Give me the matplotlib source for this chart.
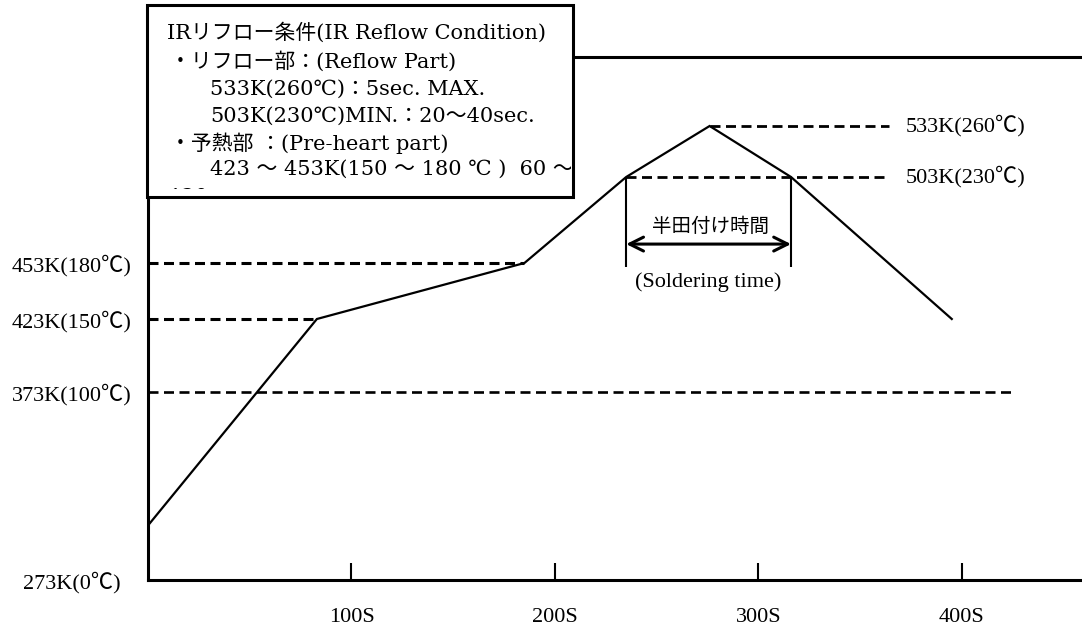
import numpy as np
import matplotlib.pyplot as plt
from matplotlib.patches import Rectangle
from matplotlib.transforms import Bbox, TransformedBbox

# reflow profile: time (s) / temperature (degC)
time_s = [0, 83, 185, 235, 276, 316, 395]
temp_c = [29, 150, 180, 230, 260, 230, 150]

# dashed reference levels
ref_temp = [180, 150, 100, 260, 230]
ref_start = [0, 0, 0, 276, 235]
ref_end = [185, 83, 425, 364, 364]
ref_lw = [2.2, 2.2, 1.9, 2.0, 2.0]

ytick_vals = [0, 100, 150, 180]
ytick_labels = ["273K(0℃)", "373K(100℃)", "423K(150℃)", "453K(180℃)"]
xtick_vals = [100, 200, 300, 400]
xtick_labels = ["100S", "200S", "300S", "400S"]
right_temp = [260, 230]
right_labels = ["533K(260℃)", "503K(230℃)"]

solder_start = 235
solder_end = 316

box_lines = [
    "IRリフロー条件(IR Reflow Condition)",
    "・リフロー部：(Reflow Part)",
    "533K(260℃)：5sec. MAX.",
    "503K(230℃)MIN.：20～40sec.",
    "・予熱部 ：(Pre-heart part)",
    "423 ～ 453K(150 ～ 180 ℃ )  60 ～",
    "120sec.",
]
box_x = [167, 170, 210, 210, 170, 210, 168]
box_y = [33, 61, 89, 116, 143, 169, 197]

# schematic (non-linear) temperature axis
scale_t = [0, 100, 150, 180, 230, 260, 300]
scale_p = [0, 188, 261, 317, 403, 454, 523]

serif = ["Liberation Serif", "Noto Sans CJK JP"]
boxfont = ["DejaVu Serif", "Noto Sans CJK JP"]

W, H = 1082, 633
fig = plt.figure(figsize=(W / 100, H / 100), dpi=100)
ax = fig.add_axes([148 / W, (H - 580) / H, (W - 148) / W, (580 - 57) / H])

ax.set_yscale("function", functions=(lambda v: np.interp(v, scale_t, scale_p),
                                     lambda v: np.interp(v, scale_p, scale_t)))
ax.set_xlim(0, 459)
ax.set_ylim(0, 300)

ax.plot(time_s, temp_c, color="black", lw=1.6, solid_joinstyle="miter", zorder=3)

for T, a, b, lw in zip(ref_temp, ref_start, ref_end, ref_lw):
    ax.plot([a, b], [T, T], color="black", lw=lw,
            dashes=(10 * 0.72 / lw, 5.5 * 0.72 / lw), zorder=2)

for T, lab in zip(right_temp, right_labels):
    ax.annotate(lab, xy=(364, T), xytext=(12, 0), textcoords="offset points",
                va="center", ha="left", fontsize=16, family=serif)

# soldering time marker
ax.vlines([solder_start, solder_end], 178, 230, color="black", lw=1.5)
ax.annotate("", xy=(solder_start, 191), xytext=(solder_end, 191),
            arrowprops=dict(arrowstyle="<->,head_length=1.0,head_width=0.5",
                            lw=2.2, color="black", shrinkA=0, shrinkB=0))
mid = (solder_start + solder_end) / 2
ax.text(mid + 1, 201.5, "半田付け時間", ha="center", va="center", fontsize=14,
        family=["Noto Sans CJK JP"])
ax.text(mid, 170, "(Soldering time)", ha="center", va="center", fontsize=16,
        family=serif)

ax.set_xticks(xtick_vals)
ax.set_xticklabels(xtick_labels, fontsize=16, family=serif)
ax.tick_params(axis="x", direction="in", length=12, width=1.5, pad=20)
ax.set_yticks(ytick_vals)
ax.set_yticklabels(ytick_labels, fontsize=16, family=serif, ha="center")
ax.tick_params(axis="y", length=0, pad=55)
ax.minorticks_off()

ax.spines["right"].set_visible(False)
for s in ["left", "bottom", "top"]:
    ax.spines[s].set_linewidth(2.2)

# condition box
box = Rectangle((147 / W, 1 - 197 / H), (573 - 147) / W, (197 - 5) / H,
                transform=fig.transFigure, facecolor="white", edgecolor="black",
                lw=2.2, zorder=5)
fig.patches.append(box)
clip = TransformedBbox(Bbox.from_extents(149 / W, 1 - 189 / H, 571 / W, 1 - 7 / H),
                       fig.transFigure)
for s, x, y in zip(box_lines, box_x, box_y):
    t = fig.text(x / W, 1 - y / H, s, ha="left", va="center", fontsize=15,
                 family=boxfont, zorder=6)
    t.set_clip_box(clip)
    t.set_clip_on(True)

fig.savefig("out.png", dpi=100)
